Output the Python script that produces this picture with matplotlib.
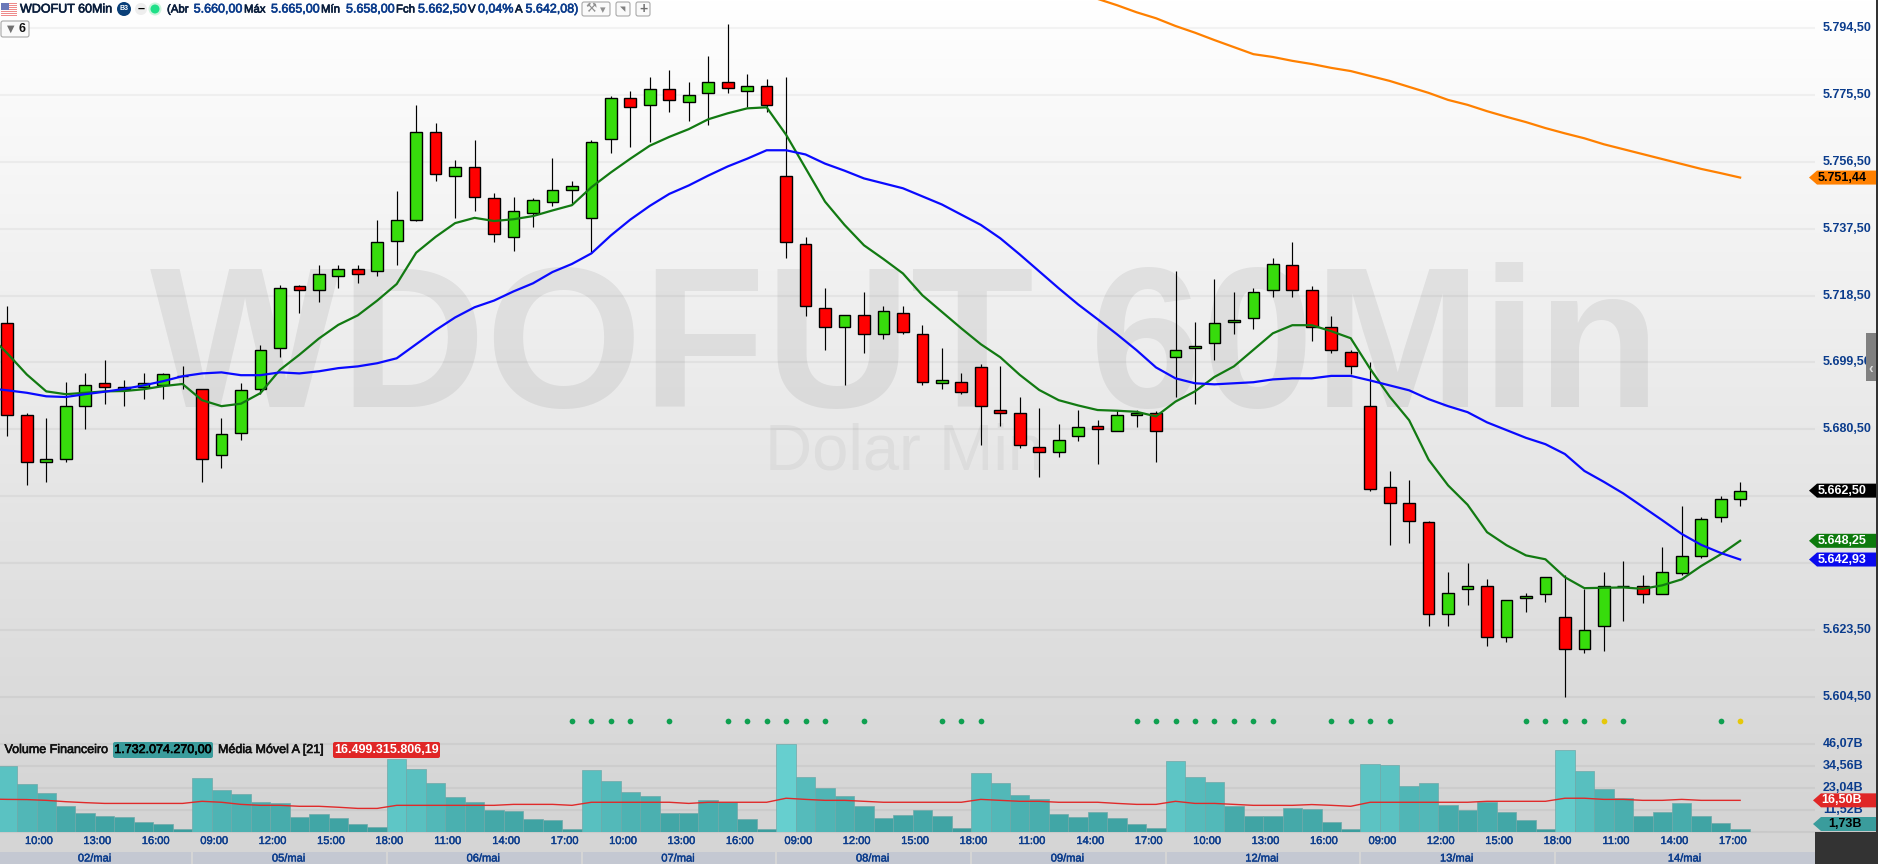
import numpy as np
import matplotlib
matplotlib.use("Agg")
import matplotlib.pyplot as plt
import matplotlib.patheffects as pe
from matplotlib.patches import Rectangle, Polygon, FancyBboxPatch, Circle

plt.rcParams['font.family'] = ['Liberation Sans', 'DejaVu Sans']

# ---------- data ----------
opens = [5710,5684,5670.5,5671.5,5686.5,5693,5691.5,5692,5692.5,5695,
         5691.5,5672.5,5679,5691.5,5703,5720.5,5719.5,5723.5,5725.5,5725,
         5733.5,5739.5,5764.5,5752,5754.5,5745.5,5734.5,5741.5,5744.5,5748,
         5740,5762.5,5774,5772,5776.5,5773,5775.5,5778.5,5776,5777.5,
         5752,5732.5,5714.5,5709,5712.5,5707,5713,5707,5693,5693.5,
         5697.5,5685.5,5684.5,5675,5673.5,5678,5681,5679.5,5684,5684.5,
         5700.5,5703,5704.5,5710.5,5711.5,5719.5,5726.5,5719.5,5709,5702,
         5686.5,5663.5,5659,5653.5,5627.5,5634.5,5635.5,5621,5632,5633,
         5626.5,5617.5,5624,5635.5,5635.5,5633,5639,5644,5655,5660]
closes = [5684,5670.5,5671.5,5686.5,5692.5,5692,5692,5693,5695.5,5695,
          5671.5,5678.5,5691,5702.5,5720,5719.5,5724,5725.5,5724,5733,
          5739.5,5764.5,5752.5,5754.5,5746,5735.5,5742,5745,5748,5749,
          5761.5,5774,5771.5,5776.5,5773.5,5775,5778.5,5777,5777.5,5772,
          5733,5715,5709,5712.5,5707,5713.5,5707.5,5693.5,5694,5690.5,
          5686.5,5684.5,5675.5,5673.5,5677,5680.5,5680,5684,5684.5,5679.5,
          5702.5,5703.5,5710,5711,5719,5727,5719.5,5709,5702.5,5698,
          5663,5659,5654,5627.5,5633.5,5635.5,5621,5631.5,5632.5,5638,
          5617.5,5623,5635.5,5635.5,5633,5639.5,5644,5654.5,5660,5662.5]
highs = [5715,5684.5,5683,5693.5,5696,5699.5,5694,5696,5696,5698,
         5691.5,5683,5693,5704,5721,5721,5726.5,5726.5,5726.5,5739.5,
         5747.5,5772,5767,5756.5,5762,5747,5746,5745.5,5757,5750.5,
         5762,5774.5,5776,5780,5782,5778.5,5786,5795,5781,5779.5,
         5780,5734.5,5720,5712.5,5719,5715,5715,5709.5,5703,5696,
         5698.5,5698,5689,5686,5681.5,5685.5,5682.5,5685.5,5685.5,5685,
         5725,5710.5,5722.5,5719,5720,5728.5,5733,5720.5,5712,5702.5,
         5699,5668,5665.5,5654,5639.5,5642,5637.5,5631.5,5633.5,5638,
         5638.5,5634.5,5639.5,5642.5,5638.5,5646.5,5658,5655,5661,5665]
lows = [5678,5664,5665,5670.5,5680,5687,5686.5,5688.5,5688.5,5691.5,
        5665,5669,5677,5690,5700.5,5713,5716,5720,5721.5,5723.5,
        5726.5,5739,5750.5,5740,5742,5733,5730.5,5737.5,5743.5,5744,
        5730,5758.5,5760,5761.5,5770,5767.5,5766.5,5775.5,5771.5,5770,
        5728.5,5712,5702.5,5692.5,5701.5,5705.5,5707,5692.5,5691.5,5690,
        5675.5,5681,5674.5,5666.5,5672,5676.5,5670,5679.5,5680.5,5670.5,
        5689,5687,5699.5,5707,5708.5,5717.5,5717.5,5705,5701.5,5695.5,
        5662.5,5647,5647.5,5624,5624,5630,5618.5,5619.5,5628,5631,
        5604,5616.5,5617,5625.5,5630.5,5633,5638.5,5643.5,5653.5,5658]
# the three series below also hold one point for the bar just left of the window
ma_green = [5707,5701.5,5695.5,5690.7,5689.9,5690.3,5690.7,5690.8,5691.3,5692.2,5692.8,
            5688.2,5686.5,5687.2,5690.2,5696.8,5701.1,5705.7,5709.6,5712.3,5716.5,
            5721.2,5730.1,5734.6,5738.5,5740,5739.1,5739.6,5740.5,5742.1,5743.6,
            5748.7,5752.9,5756.8,5760.5,5763,5765.2,5768,5769.7,5771.1,5771.4,
            5763.6,5754.1,5744.6,5738,5732.2,5728.3,5724.2,5718,5713.3,5708.6,
            5704.1,5700.4,5695.4,5691.1,5688.2,5686.7,5685.4,5685.2,5684.9,5683.6,
            5687.8,5690.7,5694.8,5697.8,5702.5,5707.2,5709.5,5709.5,5707.8,5705.8,
            5697.1,5689.2,5682.5,5671.3,5664,5658.5,5650.7,5647,5644.1,5643,
            5637.9,5634.8,5634.9,5635,5634.6,5635.6,5637.3,5641.1,5644.4,5648.25]
ma_blue = [5691.6,5691,5690.3,5689.3,5689.1,5689.9,5690.6,5691.4,5692.4,5693.6,5695,
           5695.8,5696.1,5695.3,5695.3,5696.1,5695.8,5696.4,5697.3,5697.8,5698.7,
           5700.1,5704.1,5708.1,5711.7,5714.6,5716.5,5719.1,5721.4,5724.6,5726.9,
           5729.9,5735,5739.5,5743.4,5746.8,5749.2,5752,5754.6,5756.8,5759.2,
           5759.2,5758,5755.4,5753.4,5751.2,5749.8,5748.4,5746.1,5743.8,5740.9,
           5738,5734.2,5729.6,5724.8,5720,5715.4,5711.2,5706.9,5702.4,5697.5,
           5694.4,5693,5692.7,5693,5693.3,5694.1,5694.4,5694.4,5695.1,5695.1,
           5693.8,5692.4,5691,5688.5,5686.5,5684.8,5681.9,5679.7,5677.5,5675.7,
           5672.9,5668.1,5665,5661.7,5657.9,5654.1,5650.2,5647.1,5644.8,5642.93]
ma_orange_start = 56
ma_orange = [5802.2,5800.4,5798.4,5796.7,5794.5,5792.6,5790.5,5788.5,5786.5,5785.7,
             5784.6,5783.7,5782.6,5781.7,5780.3,5778.9,5777.2,5775.5,5773.5,5772.1,
             5770.3,5768.7,5767.2,5765.5,5764,5762.6,5760.9,5759.5,5758.1,5756.7,
             5755.3,5753.9,5752.7,5751.44]
volume = [34.4,25,20.3,13.6,9.9,8.3,7.8,5.2,4.2,1.6,
          28.2,21.9,19.8,15.6,15.1,7.8,9.4,7.3,4.2,2.6,
          38.1,32.8,25.5,18.2,15.6,11.5,10.9,6.8,6.3,1.6,
          32.3,26.6,20.9,18.8,9.9,9.9,16.7,15.5,6.8,1.6,
          45.9,28.7,22.9,18.8,13.6,7.3,8.9,11.5,8.3,2.1,
          30.8,25.5,19.3,17.2,9.4,7.8,10.4,7.3,4.2,2.1,
          37,28.7,26.1,13.6,8.3,8.3,12.5,12,5.2,1.6,
          35.5,34.9,24,25.5,14.1,11.5,15.6,10.4,6.3,1.6,
          42.8,31.8,22.4,17.7,8.3,10.4,15.1,8.3,4.7,1.73]
vol_ma = [17.2,17,16.9,16.5,15.8,15.3,14.9,14.9,14.9,14.9,14.9,
          16,15.5,14.4,13.9,13.9,13.4,13.4,12.9,12.3,12.3,
          13.9,13.9,13.9,13.9,13.9,13.9,14.4,14.4,14.4,13.9,
          15.5,15.5,15.5,15.5,15.5,14.9,15.5,15.5,15.5,15.5,
          17.6,17,16.5,16.5,16,15.5,15.5,15.5,15.5,15.5,
          17,16.5,16,16,15.5,15.5,15.5,14.9,14.4,14.4,
          16,14.9,14.9,14.4,13.9,13.9,13.9,14.3,13.9,13.4,
          15.5,15.5,15.5,15.5,15.5,15.5,16,16,16,16,
          17.6,17.6,17,17,16.5,16.5,17,16.5,16.5,16.5]
dots_green = [29,30,31,32,34,37,38,39,40,41,42,44,48,49,50,58,59,60,61,62,63,64,65,
              68,69,70,71,78,79,80,81,83,88]
dots_yellow = [82,89]
price_ticks = [5794.5,5775.5,5756.5,5737.5,5718.5,5699.5,5680.5,5661.5,5642.5,5623.5,5604.5]
price_labels = ['5.794,50','5.775,50','5.756,50','5.737,50','5.718,50','5.699,50','5.680,50',
                '','','5.623,50','5.604,50']
vol_ticks = [46.07,34.56,23.04,11.52]
vol_labels = ['46,07B','34,56B','23,04B','11,52B']
time_idx = list(range(1,90,3))
time_labels = ['10:00','13:00','16:00','09:00','12:00','15:00','18:00','11:00','14:00','17:00']*3
date_labels = ['02/mai','05/mai','06/mai','07/mai','08/mai','09/mai','12/mai','13/mai','14/mai']

for arr in (opens,closes,highs,lows,volume):
    assert len(arr)==90, len(arr)
for arr in (ma_green,ma_blue,vol_ma):
    assert len(arr)==91, len(arr)

W,H = 1878,864
fig = plt.figure(figsize=(W/100,H/100),dpi=100)
NAVY = '#0b3c8c'; DARK='#0a1e3c'
def heavy(col,w=0.35):
    return [pe.withStroke(linewidth=w,foreground=col)]

# background, pixel coordinates
bg = fig.add_axes([0,0,1,1],zorder=0); bg.set_xlim(0,W); bg.set_ylim(H,0); bg.axis('off')
grad = np.linspace(255,212,400)[:,None]/255
bg.imshow(np.dstack([grad]*3),extent=[0,W,832,0],aspect='auto',zorder=0)
bg.add_patch(Rectangle((0,832),W,32,fc='#d5d5d5',ec='none',zorder=0))
bg.set_xlim(0,W); bg.set_ylim(H,0)
bg.text(150,407,'WDOFUT 60Min',fontsize=145,fontweight='bold',color='k',alpha=0.065,va='baseline',ha='left',zorder=1)
bg.text(765,470,'Dolar Min',fontsize=47,color='k',alpha=0.045,va='baseline',ha='left',zorder=1)

# price axes
X0,DX = 7.3,19.47
PX2V = 1/3.52
ax = fig.add_axes([0,(H-832)/H,1815/W,832/H],zorder=1)
ax.patch.set_alpha(0)
ax.set_xlim(-X0/DX,(1815-X0)/DX)
ax.set_ylim(5794.5+26*PX2V-832*PX2V,5794.5+26*PX2V)
ax.axis('off')
x = np.arange(90)
xl = np.arange(-1,90)
GRID_OFF = 0.57
ax.hlines(np.array(price_ticks)-GRID_OFF,-1,100,color='k',alpha=0.045,lw=1.6,zorder=1)
o,c,h,l = map(np.array,(opens,closes,highs,lows))
up = c>=o
ax.vlines(x,l,h,color='k',lw=0.85,zorder=3)
ax.bar(x,np.abs(c-o),bottom=np.minimum(o,c),width=0.6,
       color=np.where(up,'#37dc0c','#ff0000'),edgecolor='k',linewidth=1.0,zorder=4)
ax.plot(xl,ma_green,color='#127a12',lw=1.6,zorder=5)
ax.plot(xl,ma_blue,color='#0a0aff',lw=1.6,zorder=6)
ax.plot(np.arange(ma_orange_start,90),ma_orange,color='#ff8000',lw=1.6,zorder=6)

# volume axes
VOL_TOP=700
vax = fig.add_axes([0,(H-832)/H,1815/W,(832-VOL_TOP)/H],zorder=2)
vax.patch.set_alpha(0)
vax.set_xlim(ax.get_xlim()); vax.set_ylim(0,(832-VOL_TOP)*11.52/22.1)
vax.axis('off')
vax.hlines(vol_ticks,-1,100,color='k',alpha=0.045,lw=1.6,zorder=1)
vax.hlines([0],-1,100,color='k',alpha=0.05,lw=1.6,zorder=1,clip_on=False)
t = np.clip(np.array(volume)/46,0,1)[:,None]
cols = (1-t)*np.array([56,155,155])/255 + t*np.array([102,207,207])/255
vax.bar(x,volume,width=1.0,color=cols,edgecolor='#6fa9a9',linewidth=0.5,zorder=2)
vax.plot(xl,vol_ma,color='#e02a2a',lw=1.0,zorder=3)

# overlay
ov = fig.add_axes([0,0,1,1],zorder=5); ov.patch.set_alpha(0)
ov.set_xlim(0,W); ov.set_ylim(H,0); ov.axis('off')
def ypx(a,v): return ov.transData.inverted().transform(a.transData.transform((0,v)))[1]
def xpx(i): return ov.transData.inverted().transform(ax.transData.transform((i,5700)))[0]

# dots
dy = 721
ov.scatter([xpx(i) for i in dots_green],[dy]*len(dots_green),s=17,color='#0fa050',linewidths=0,zorder=3)
ov.scatter([xpx(i) for i in dots_yellow],[dy]*len(dots_yellow),s=17,color='#e6c80a',linewidths=0,zorder=3)

FS=9
for v,lab in zip(price_ticks,price_labels):
    if lab:
        ov.text(1823,ypx(ax,v-GRID_OFF),lab,color=NAVY,fontsize=FS,fontweight='bold',va='center',ha='left',zorder=4)
for v,lab in zip(vol_ticks,vol_labels):
    ov.text(1823,ypx(vax,v),lab,color=NAVY,fontsize=FS,fontweight='bold',va='center',ha='left',zorder=4)

def tag(y,txt,fc,tc,tip=1809,body=1817,tx=None,ha='center'):
    ov.add_patch(Polygon([(tip,y),(body,y-7),(1876,y-7),(1876,y+7),(body,y+7)],closed=True,fc=fc,ec='none',zorder=5))
    ov.text(1842 if tx is None else tx,y,txt,color=tc,fontsize=FS,fontweight='bold',va='center',ha=ha,zorder=6)
tag(ypx(ax,ma_orange[-1]),'5.751,44','#ff8000','k')
tag(ypx(ax,closes[-1]),'5.662,50','k','w')
tag(ypx(ax,ma_green[-1]),'5.648,25','#0c7a0c','w')
tag(ypx(ax,ma_blue[-1]),'5.642,93','#0a0aee','w')
tag(ypx(vax,vol_ma[-1]),'16,50B','#e02626','w',tip=1813,body=1821)
tag(824,'1,73B','#3a9c9c','k',tip=1813,body=1821,tx=1862,ha='right')

# time & date strips
for i,lab in zip(time_idx,time_labels):
    ov.text(xpx(i+0.62),841,lab,color=NAVY,fontsize=8,va='center',ha='center',path_effects=heavy(NAVY,0.3))
starts = [0,10,20,30,40,50,60,70,80]
for k,(s,lab) in enumerate(zip(starts,date_labels)):
    x0 = xpx(s-0.5)+1 if k else 0
    x1 = xpx(s+9.5)-1 if k<8 else 1815
    ov.add_patch(Rectangle((x0,852),x1-x0,12,fc='#c4c8d2',ec='none',zorder=1))
    ov.text((x0+x1)/2-1,858.5,lab,color=NAVY,fontsize=8,va='center',ha='center',zorder=2,path_effects=heavy(NAVY,0.3))

# frame
ov.add_patch(Rectangle((1815,832),63,32,fc='#333333',ec='none',zorder=7))
ov.add_patch(Rectangle((1876,0),2,864,fc='#333333',ec='none',zorder=7))
ov.add_patch(Rectangle((1866,333),10,48,fc='#808080',ec='none',zorder=7))
ov.text(1871,369,'‹',color='#dddddd',fontsize=10,fontweight='bold',va='center',ha='center',zorder=8)

# header
ov.text(20,9.5,'WDOFUT 60Min',color=DARK,fontsize=FS,va='center',ha='left',zorder=6,path_effects=heavy(DARK,0.45))
hdr_names = [(167,'(Abr'),(244,'Máx'),(321,'Mín'),(396,'Fch'),(468,'V'),(515,'A')]
hdr_vals = [(193.7,'5.660,00'),(271,'5.665,00'),(346,'5.658,00'),(418,'5.662,50'),(478,'0,04%'),(525.5,'5.642,08)')]
for hx,s in hdr_names:
    ov.text(hx,9.5,s,color=DARK,fontsize=8.2,va='center',ha='left',zorder=6,path_effects=heavy(DARK,0.45))
for hx,s in hdr_vals:
    ov.text(hx,9.5,s,color=NAVY,fontsize=FS,va='center',ha='left',zorder=6,path_effects=heavy(NAVY,0.45))
# flag
for k in range(7):
    ov.add_patch(Rectangle((1,3+k*2),16,1,fc='#ee8a8a',ec='none',zorder=6))
ov.add_patch(Rectangle((1,3),8,7,fc='#6a78b8',ec='none',zorder=7))
# icons
ov.add_patch(Circle((124,9),7,fc='#0a3f78',ec='none',zorder=6))
ov.text(124,9,'B3',color='w',fontsize=5,fontweight='bold',ha='center',va='center',zorder=7)
ov.add_patch(Circle((141,9),6,fc='#eeeeee',ec='none',zorder=6))
ov.text(141,9,'–',color='k',fontsize=9,fontweight='bold',ha='center',va='center',zorder=7)
ov.add_patch(Circle((155,9),6.5,fc='#cdf5de',ec='none',zorder=6))
ov.add_patch(Circle((155,9),4.5,fc='#1fe088',ec='none',zorder=7))
def btn(x0,x1,y0,y1):
    ov.add_patch(FancyBboxPatch((x0+2,y0+2),x1-x0-4,y1-y0-4,boxstyle='round,pad=2',fc='#fafafa',ec='#a8a8a8',lw=0.8,zorder=6))
btn(582,610,2,16); btn(616,630,2,16); btn(636,650,2,16)
ov.text(591,9,'⚒',color='#909090',fontsize=9,ha='center',va='center',zorder=7,family='DejaVu Sans')
ov.text(603,10,'▾',color='#909090',fontsize=8,ha='center',va='center',zorder=7,family='DejaVu Sans')
ov.text(623,9,'◥',color='#808080',fontsize=5,ha='center',va='center',zorder=7,family='DejaVu Sans')
ov.text(643,9,'+',color='#707070',fontsize=10,fontweight='bold',ha='center',va='center',zorder=7)
btn(1,29,21,37)
ov.text(11,29,'▼',color='#707070',fontsize=7,ha='center',va='center',zorder=7,family='DejaVu Sans')
ov.text(22,29,'6',color='#111111',fontsize=FS,fontweight='bold',ha='center',va='center',zorder=7)

# volume legend
ov.text(4.5,750,'Volume Financeiro',color='#111111',fontsize=FS,va='center',ha='left',zorder=6,path_effects=heavy('#111111',0.45))
ov.add_patch(FancyBboxPatch((115,744),96,12,boxstyle='round,pad=2',fc='#3a9c9c',ec='none',zorder=6))
ov.text(163,750,'1.732.074.270,00',color='k',fontsize=FS,va='center',ha='center',zorder=7,path_effects=heavy('k',0.45))
ov.text(218,750,'Média Móvel A [21]',color='#111111',fontsize=FS,va='center',ha='left',zorder=6,path_effects=heavy('#111111',0.45))
ov.add_patch(FancyBboxPatch((335,744),103,12,boxstyle='round,pad=2',fc='#e02626',ec='none',zorder=6))
ov.text(386.5,750,'16.499.315.806,19',color='w',fontsize=FS,fontweight='bold',va='center',ha='center',zorder=7)

fig.savefig('out.png',dpi=100)
